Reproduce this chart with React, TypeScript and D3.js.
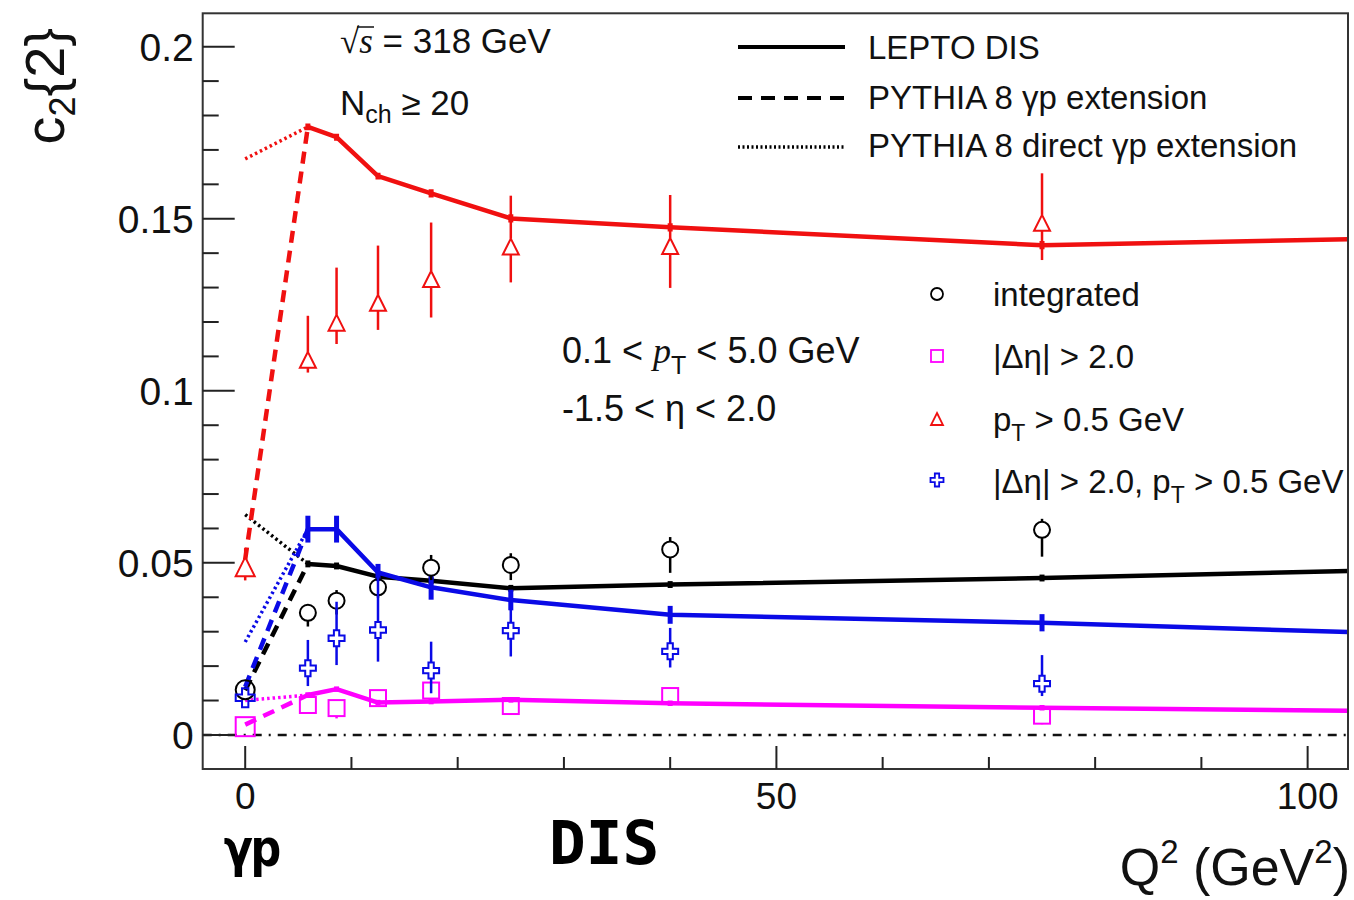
import React from 'react';
import * as d3 from 'd3';

// ---------- data ----------
const Q2_DATA = [0, 5.9, 8.6, 12.5, 17.5, 25, 40, 75];
const Q2_MODEL = [5.9, 8.6, 12.5, 17.5, 25, 40, 75, 110];

// measured c2{2}
const integratedVal = [0.0131, 0.0355, 0.039, 0.0429, 0.0486, 0.0494, 0.0539, 0.0596];
const integratedHi = [0.001, 0.001, 0.0031, 0.003, 0.0037, 0.0034, 0.0036, 0.0032];
const integratedLo = [0.001, 0.004, 0.004, 0.003, 0.0036, 0.0044, 0.0068, 0.0078];

const detaVal = [0.0024, 0.0087, 0.0078, 0.0107, 0.0129, 0.0084, 0.0113, 0.0056];
const detaHi = [0.001, 0.0015, 0.001, 0.001, 0.001, 0.001, 0.001, 0.001];
const detaLo = [0.001, 0.001, 0.003, 0.002, 0.002, 0.0015, 0.0015, 0.0025];

const ptVal = [0.0489, 0.109, 0.1198, 0.1256, 0.1325, 0.1419, 0.1421, 0.1488];
const ptHi = [0.0054, 0.0128, 0.016, 0.0166, 0.0164, 0.0148, 0.0148, 0.0144];
const ptLo = [0.004, 0.0037, 0.0062, 0.0079, 0.0112, 0.0104, 0.0122, 0.0108];

const detaPtVal = [0.0108, 0.0194, 0.0281, 0.0305, 0.0187, 0.0303, 0.0243, 0.0149];
const detaPtHi = [0.001, 0.0082, 0.0106, 0.0165, 0.0084, 0.006, 0.0068, 0.0083];
const detaPtLo = [0.001, 0.0052, 0.0078, 0.0092, 0.0066, 0.0075, 0.0047, 0.0036];

// LEPTO DIS model
const leptoIntegrated = [0.0497, 0.0491, 0.046, 0.0448, 0.0426, 0.0437, 0.0456, 0.0481];
const leptoDeta = [0.0116, 0.0133, 0.0094, 0.0097, 0.0102, 0.0092, 0.0079, 0.0068];
const leptoPt = [0.1767, 0.1737, 0.1624, 0.1574, 0.1501, 0.1475, 0.1423, 0.1444];
const leptoDetaPt = [0.0598, 0.0598, 0.0472, 0.0429, 0.0392, 0.0349, 0.0326, 0.0293];
const leptoIntegratedErr = [0.001, 0.001, 0.001, 0.001, 0.001, 0.001, 0.001, 0.001];
const leptoDetaErr = [0.0008, 0.0008, 0.0008, 0.0008, 0.0008, 0.0008, 0.0008, 0.0008];
const leptoPtErr = [0.001, 0.001, 0.001, 0.0012, 0.0012, 0.0012, 0.0012, 0.001];
const leptoDetaPtErr = [0.0039, 0.0039, 0.0025, 0.0036, 0.003, 0.0026, 0.0025, 0.002];

// PYTHIA 8 extensions at Q2 = 0 (gamma p)
const pythiaGp = { integrated: 0.013, deta: 0.003, pt: 0.051, detaPt: 0.014 };
const pythiaDirectGp = { integrated: 0.064, deta: 0.01, pt: 0.1674, detaPt: 0.027 };

const X_MAJOR = [0, 50, 100];
const X_MINOR = [10, 20, 30, 40, 60, 70, 80, 90];
const Y_MAJOR = [0, 0.05, 0.1, 0.15, 0.2];
const Y_MAJOR_LABELS = ['0', '0.05', '0.1', '0.15', '0.2'];

const RED = '#f01010';
const BLUE = '#0a0ae6';
const MAGENTA = '#ff00ff';
const BLACK = '#000000';
const FONT = '"Liberation Sans", Arial, Helvetica, sans-serif';

type Series = {
  key: 'integrated' | 'deta' | 'pt' | 'detaPt';
  color: string;
  marker: 'circle' | 'square' | 'triangle' | 'cross';
  val: number[];
  hi: number[];
  lo: number[];
  model: number[];
  modelErr: number[];
};

const SERIES: Series[] = [
  { key: 'deta', color: MAGENTA, marker: 'square', val: detaVal, hi: detaHi, lo: detaLo, model: leptoDeta, modelErr: leptoDetaErr },
  { key: 'integrated', color: BLACK, marker: 'circle', val: integratedVal, hi: integratedHi, lo: integratedLo, model: leptoIntegrated, modelErr: leptoIntegratedErr },
  { key: 'detaPt', color: BLUE, marker: 'cross', val: detaPtVal, hi: detaPtHi, lo: detaPtLo, model: leptoDetaPt, modelErr: leptoDetaPtErr },
  { key: 'pt', color: RED, marker: 'triangle', val: ptVal, hi: ptHi, lo: ptLo, model: leptoPt, modelErr: leptoPtErr },
];

function Marker({ type, cx, cy, s, color, sw = 2 }: { type: string; cx: number; cy: number; s: number; color: string; sw?: number }) {
  const h = s / 2;
  if (type === 'circle') return <circle cx={cx} cy={cy} r={h} fill="none" stroke={color} strokeWidth={sw} />;
  if (type === 'square') return <rect x={cx - h} y={cy - h} width={s} height={s} fill="none" stroke={color} strokeWidth={sw} />;
  if (type === 'triangle') {
    const p = `M${cx},${cy - h} L${cx + h},${cy + h} L${cx - h},${cy + h} Z`;
    return <path d={p} fill="none" stroke={color} strokeWidth={sw} strokeLinejoin="miter" />;
  }
  const a = s / 6;
  const p = `M${cx - a},${cy - h} H${cx + a} V${cy - a} H${cx + h} V${cy + a} H${cx + a} V${cy + h} H${cx - a} V${cy + a} H${cx - h} V${cy - a} H${cx - a} Z`;
  return <path d={p} fill="none" stroke={color} strokeWidth={sw} />;
}

export default function App() {
  const x = d3.scaleLinear().domain([-4, 103.8]).range([202.7, 1348]);
  const y = d3.scaleLinear().domain([-0.0099, 0.2097]).range([769, 13.3]);
  const [x0, x1] = x.range();
  const [yb, yt] = y.range();

  const line = d3
    .line<[number, number]>()
    .x((d) => x(d[0]))
    .y((d) => y(d[1]));

  const yMinor = d3.range(0, 21).filter((k) => k % 5 !== 0).map((k) => k / 100);

  return (
    <svg width={1354} height={900} style={{ position: 'absolute', left: 0, top: 0, background: '#fff' }} fontFamily={FONT}>
      <defs>
        <clipPath id="frame">
          <rect x={x0} y={yt} width={x1 - x0} height={yb - yt} />
        </clipPath>
      </defs>
      <rect x={0} y={0} width={1354} height={900} fill="#fff" />

      {/* zero line */}
      <line x1={x0} x2={x1} y1={y(0)} y2={y(0)} stroke="#111" strokeWidth={2.5} strokeDasharray="9,7,2,7" />

      {/* model lines */}
      <g clipPath="url(#frame)">
        {SERIES.map((s) => {
          const pts = Q2_MODEL.map((q, i) => [q, s.model[i]] as [number, number]);
          const dashed: [number, number][] = [[0, pythiaGp[s.key]], pts[0]];
          const dotted: [number, number][] = [[0, pythiaDirectGp[s.key]], pts[0]];
          return (
            <g key={s.key}>
              <path d={line(dotted) || ''} fill="none" stroke={s.color} strokeWidth={3.5} strokeDasharray="2.5,3" />
              <path d={line(dashed) || ''} fill="none" stroke={s.color} strokeWidth={4.5} strokeDasharray="12,8" />
              <path d={line(pts) || ''} fill="none" stroke={s.color} strokeWidth={4.5} strokeLinejoin="round" />
              {pts.map((p, i) => (
                <line key={i} x1={x(p[0])} x2={x(p[0])} y1={y(p[1] + s.modelErr[i])} y2={y(p[1] - s.modelErr[i])} stroke={s.color} strokeWidth={5} />
              ))}
            </g>
          );
        })}
      </g>

      {/* data points */}
      {SERIES.map((s) => (
        <g key={s.key + 'd'}>
          {Q2_DATA.map((q, i) => {
            const cx = x(q);
            const cy = y(s.val[i]);
            const size = i === 0 ? 19 : 16;
            const h = size / 2;
            const top = y(s.val[i] + s.hi[i]);
            const bot = y(s.val[i] - s.lo[i]);
            return (
              <g key={i}>
                {cy - h > top && <line x1={cx} x2={cx} y1={top} y2={cy - h} stroke={s.color} strokeWidth={2.5} />}
                {bot > cy + h && <line x1={cx} x2={cx} y1={cy + h} y2={bot} stroke={s.color} strokeWidth={2.5} />}
                <Marker type={s.marker} cx={cx} cy={cy} s={size} color={s.color} />
              </g>
            );
          })}
        </g>
      ))}

      {/* frame */}
      <rect x={x0} y={yt} width={x1 - x0} height={yb - yt} fill="none" stroke="#333" strokeWidth={2} />

      {/* y ticks */}
      {Y_MAJOR.map((v, i) => (
        <g key={'ym' + i}>
          <line x1={x0} x2={x0 + 32} y1={y(v)} y2={y(v)} stroke="#222" strokeWidth={2} />
          <text x={x0 - 9} y={y(v) + 14} textAnchor="end" fontSize={39} fill="#111">
            {Y_MAJOR_LABELS[i]}
          </text>
        </g>
      ))}
      {yMinor.map((v, i) => (
        <line key={'yn' + i} x1={x0} x2={x0 + 16} y1={y(v)} y2={y(v)} stroke="#222" strokeWidth={2} />
      ))}

      {/* x ticks */}
      {X_MAJOR.map((v, i) => (
        <g key={'xm' + i}>
          <line x1={x(v)} x2={x(v)} y1={yb} y2={yb - 23} stroke="#222" strokeWidth={2} />
          <text x={x(v)} y={yb + 40} textAnchor="middle" fontSize={37} fill="#111">
            {v}
          </text>
        </g>
      ))}
      {X_MINOR.map((v, i) => (
        <line key={'xn' + i} x1={x(v)} x2={x(v)} y1={yb} y2={yb - 12} stroke="#222" strokeWidth={2} />
      ))}

      {/* axis titles */}
      <text transform="translate(64,28) rotate(-90)" textAnchor="end" fontSize={56} fill="#111">
        c<tspan fontSize={36} dy={11}>2</tspan>
        <tspan dy={-11}>{'{2}'}</tspan>
      </text>
      <text x={1350} y={885} textAnchor="end" fontSize={52} fill="#111">
        Q<tspan fontSize={33} dy={-22}>2</tspan>
        <tspan dy={22}> (GeV</tspan>
        <tspan fontSize={33} dy={-22}>2</tspan>
        <tspan dy={22}>)</tspan>
      </text>

      {/* hand labels */}
      <text x={223} y={866} fontSize={52} fontWeight="bold" fontFamily='"DejaVu Sans Mono", monospace' fill="#000" letterSpacing={-4}>
        γp
      </text>
      <text x={549} y={864} fontSize={61} fontWeight="bold" fontFamily='"DejaVu Sans Mono", monospace' fill="#000" letterSpacing={0}>
        DIS
      </text>

      {/* annotations */}
      <text x={340} y={53} fontSize={35} fill="#111">
        <tspan fontFamily='"Liberation Serif", serif'>√</tspan>
        <tspan fontFamily='"Liberation Serif", serif' fontStyle="italic">s</tspan>
        <tspan> = 318 GeV</tspan>
      </text>
      <line x1={357} x2={374} y1={27} y2={27} stroke="#111" strokeWidth={1.5} />
      <text x={340} y={115} fontSize={35} fill="#111">
        N<tspan fontSize={25} dy={8}>ch</tspan>
        <tspan dy={-8}> ≥ 20</tspan>
      </text>
      <text x={562} y={363} fontSize={36} fill="#111">
        0.1 &lt; <tspan fontFamily='"Liberation Serif", serif' fontStyle="italic">p</tspan>
        <tspan fontSize={25} dy={11}>T</tspan>
        <tspan dy={-11}> &lt; 5.0 GeV</tspan>
      </text>
      <text x={562} y={421} fontSize={36} fill="#111">
        -1.5 &lt; η &lt; 2.0
      </text>

      {/* legend lines */}
      <line x1={738} x2={845} y1={47} y2={47} stroke="#000" strokeWidth={4} />
      <line x1={738} x2={845} y1={98} y2={98} stroke="#000" strokeWidth={4} strokeDasharray="14,9" />
      <line x1={738} x2={845} y1={147} y2={147} stroke="#000" strokeWidth={3.5} strokeDasharray="2,2.5" />
      <text x={868} y={59} fontSize={33} fill="#111">LEPTO DIS</text>
      <text x={868} y={109} fontSize={33} fill="#111">PYTHIA 8 γp extension</text>
      <text x={868} y={157} fontSize={33} fill="#111">PYTHIA 8 direct γp extension</text>

      {/* legend markers */}
      <Marker type="circle" cx={937} cy={294} s={12} color={BLACK} sw={1.8} />
      <Marker type="square" cx={937} cy={356} s={12} color={MAGENTA} sw={1.8} />
      <Marker type="triangle" cx={937} cy={419} s={12} color={RED} sw={1.8} />
      <Marker type="cross" cx={937} cy={480} s={13} color={BLUE} sw={1.8} />
      <text x={993} y={306} fontSize={33} fill="#111">integrated</text>
      <text x={993} y={368} fontSize={33} fill="#111">|Δη| &gt; 2.0</text>
      <text x={993} y={431} fontSize={33} fill="#111">
        p<tspan fontSize={23} dy={10}>T</tspan>
        <tspan dy={-10}> &gt; 0.5 GeV</tspan>
      </text>
      <text x={993} y={493} fontSize={33} fill="#111">
        |Δη| &gt; 2.0, p<tspan fontSize={23} dy={10}>T</tspan>
        <tspan dy={-10}> &gt; 0.5 GeV</tspan>
      </text>
    </svg>
  );
}
